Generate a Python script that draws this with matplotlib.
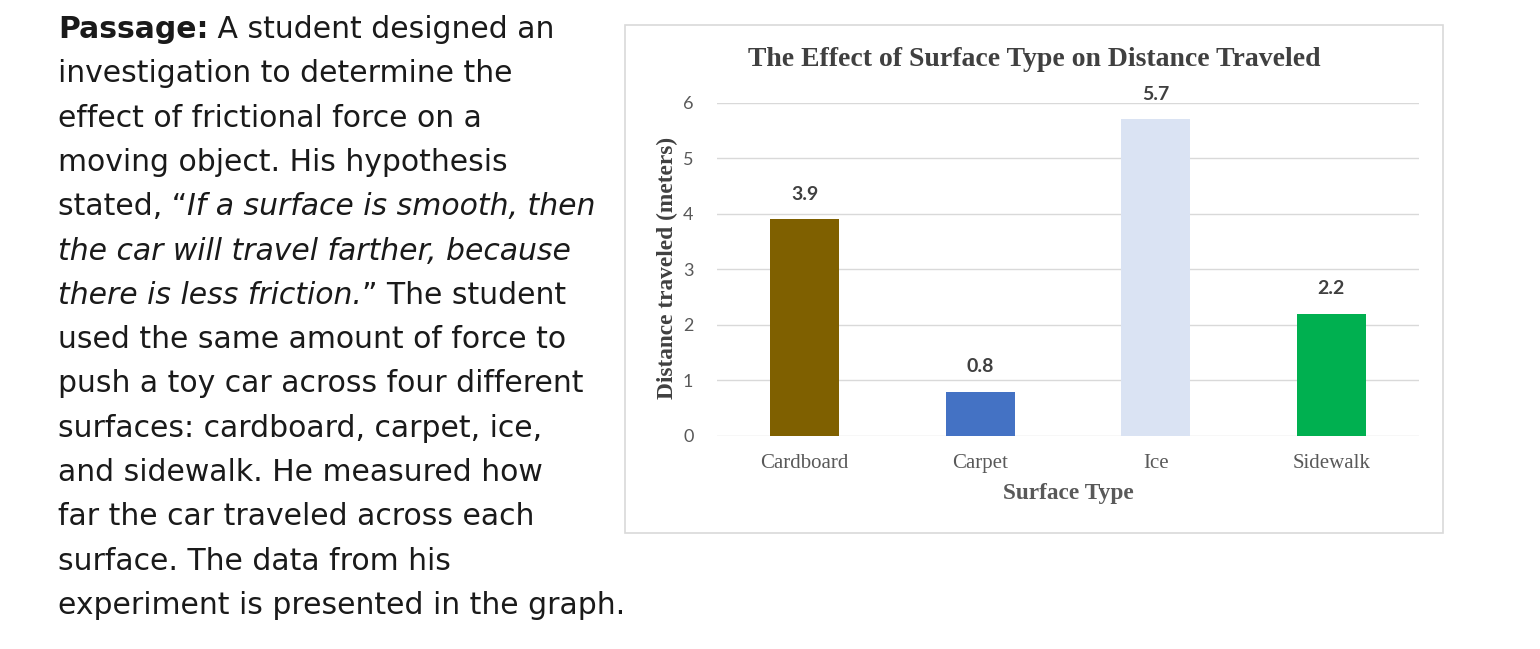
import matplotlib
matplotlib.use("Agg")
import matplotlib.pyplot as plt
from matplotlib.patches import Rectangle

# chart data
surfaces = ["Cardboard", "Carpet", "Ice", "Sidewalk"]
distances = [3.9, 0.8, 5.7, 2.2]
bar_colors = ["#7F6000", "#4472C4", "#DAE3F3", "#00B050"]
y_ticks = [0, 1, 2, 3, 4, 5, 6]

# passage text, one list of (text, style) segments per line
passage = [
    [("Passage:", "bold"), (" A student designed an", "normal")],
    [("investigation to determine the", "normal")],
    [("effect of frictional force on a", "normal")],
    [("moving object. His hypothesis", "normal")],
    [("stated, \u201c", "normal"), ("If a surface is smooth, then", "italic")],
    [("the car will travel farther, because", "italic")],
    [("there is less friction.", "italic"), ("\u201d The student", "normal")],
    [("used the same amount of force to", "normal")],
    [("push a toy car across four different", "normal")],
    [("surfaces: cardboard, carpet, ice,", "normal")],
    [("and sidewalk. He measured how", "normal")],
    [("far the car traveled across each", "normal")],
    [("surface. The data from his", "normal")],
    [("experiment is presented in the graph.", "normal")],
]

W, H = 1540, 649
fig = plt.figure(figsize=(W / 100, H / 100), dpi=100)
fig.patch.set_facecolor("white")


def fx(px):
    return px / W


def fy(py):
    return 1 - py / H


# ---- passage on the left ----
renderer = fig.canvas.get_renderer()
text_font = "DejaVu Sans"
text_color = "#1a1a1a"


def seg_props(style, size):
    return dict(family=text_font, size=size, color=text_color,
                weight="bold" if style == "bold" else "normal",
                style="italic" if style == "italic" else "normal")


def seg_width(s, style, size):
    t = fig.text(0, 0, s.replace(" ", "\u00a0"), **seg_props(style, size))
    w = t.get_window_extent(renderer).width
    t.remove()
    return w


# fit font size so the last line spans ~567 px like the reference
size = 20.0
last = passage[-1]
w = sum(seg_width(s, st, size) for s, st in last)
size = size * 567.0 / w

x0, base0, step = 58, 38, 44.3
for i, line in enumerate(passage):
    x = x0
    for s, st in line:
        s_nb = s.replace(" ", "\u00a0")
        fig.text(fx(x), fy(base0 + step * i), s_nb, va="baseline", ha="left",
                 **seg_props(st, size))
        x += seg_width(s, st, size)

# ---- chart on the right ----
fig.patches.append(Rectangle((fx(625), fy(533)), fx(818), 508 / H,
                             transform=fig.transFigure, fill=False,
                             edgecolor="#d9d9d9", lw=1.2))

ax = fig.add_axes([fx(717), fy(436), fx(702), (436 - 102.7) / H])
xpos = range(len(surfaces))
ax.bar(xpos, distances, width=0.395, color=bar_colors, zorder=3)
ax.set_xlim(-0.5, 3.5)
ax.set_ylim(0, 6)
ax.set_yticks(y_ticks)
ax.yaxis.grid(True, color="#d9d9d9", lw=1, zorder=0)
for sp in ax.spines.values():
    sp.set_visible(False)
ax.tick_params(axis="both", length=0)
ax.tick_params(axis="y", pad=17, labelsize=13, labelcolor="#595959")
ax.tick_params(axis="x", pad=13, labelsize=15, labelcolor="#595959")
for lab in ax.get_yticklabels():
    lab.set_family("Lato")
ax.set_xticks(list(xpos), surfaces, family="Liberation Serif")

for xi, v in zip(xpos, distances):
    ax.annotate(f"{v:.1f}", (xi, v), xytext=(0, 12), textcoords="offset points",
                ha="center", va="bottom", fontsize=14, fontweight="bold",
                family="Lato", color="#404040")

fig.text(fx(1034), fy(60), "The Effect of Surface Type on Distance Traveled",
         ha="center", va="center", family="Liberation Serif", weight="bold",
         size=20, color="#404040")
fig.text(fx(667), fy(268), "Distance traveled (meters)", rotation=90,
         ha="center", va="center", family="Liberation Serif", weight="bold",
         size=16.8, color="#404040")
fig.text(fx(1068), fy(494), "Surface Type", ha="center", va="center",
         family="Liberation Serif", weight="bold", size=16.8, color="#595959")

fig.savefig("out.png", dpi=100)
